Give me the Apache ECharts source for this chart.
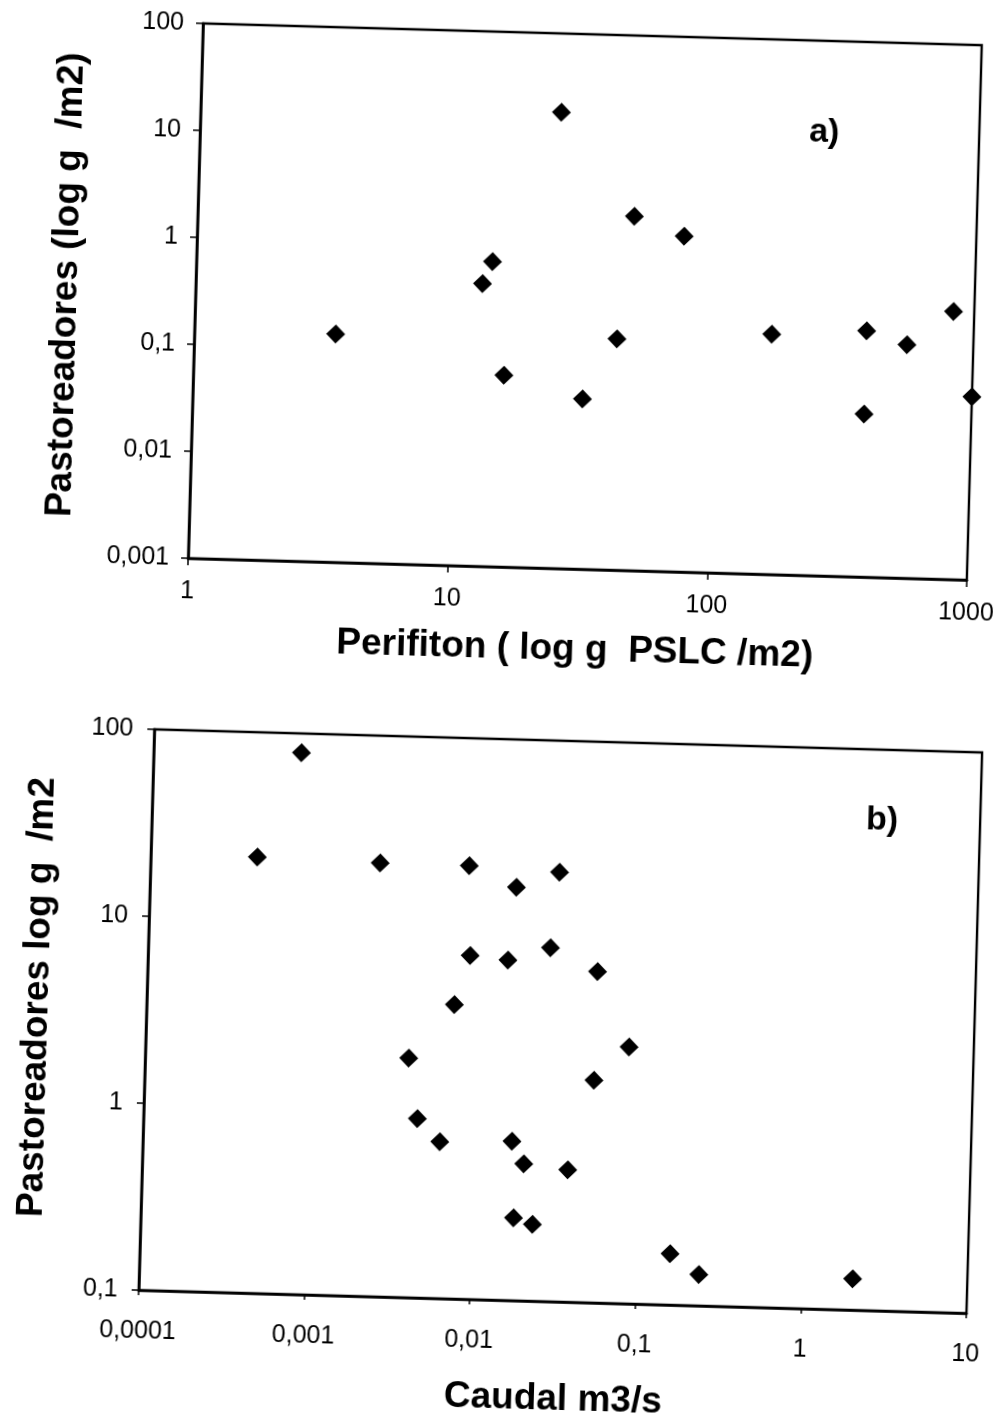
<!DOCTYPE html>
<html>
<head>
<meta charset="utf-8">
<script src="https://cdn.jsdelivr.net/npm/echarts@6/dist/echarts.min.js"></script>
<style>
  html, body { margin: 0; padding: 0; background: #fff; overflow: hidden; }
  #main { width: 1000px; height: 1420px; transform: rotate(1.6deg); transform-origin: 500px 710px; }
</style>
</head>
<body>
<div id="main"></div>
<script>
// ---- Panel a) ----
const perifiton = [3.5, 24.5, 48, 75, 13.8, 12.7, 42.4, 15.7, 31.7, 167, 387, 555, 832, 1000, 386];
const pastoreadoresA = [0.136, 18.4, 2.05, 1.37, 0.71, 0.44, 0.145, 0.062, 0.039, 0.176, 0.2, 0.152, 0.32, 0.0515, 0.0333];
const aXTickLabels = ['1', '10', '100', '1000'];          // exponents 0..3
const aYTickLabels = ['0,001', '0,01', '0,1', '1', '10', '100']; // exponents -3..2

// ---- Panel b) ----
const caudal = [0.00078, 0.00044, 0.00243, 0.0084, 0.0163, 0.0295, 0.0088, 0.0149, 0.0268, 0.052, 0.0072, 0.0039,
                0.083, 0.0516, 0.0045, 0.0062, 0.0169, 0.0201, 0.0371, 0.0178, 0.0232, 0.159, 0.239, 2.03];
const pastoreadoresB = [79, 21.5, 20.9, 20.8, 16.2, 19.8, 6.9, 6.6, 7.8, 5.9, 3.75, 1.91,
                        2.36, 1.55, 0.91, 0.69, 0.71, 0.54, 0.51, 0.277, 0.257, 0.188, 0.147, 0.147];
const bXTickLabels = ['0,0001', '0,001', '0,01', '0,1', '1', '10']; // exponents -4..1
const bYTickLabels = ['0,1', '1', '10', '100'];                   // exponents -1..2

const titles = {
  aX: 'Perifiton ( log g  PSLC /m2)',
  aY: 'Pastoreadores (log g  /m2)',
  bX: 'Caudal m3/s',
  bY: 'Pastoreadores log g  /m2',
  a: 'a)',
  b: 'b)'
};

const FONT = "'Liberation Sans', Arial, Helvetica, sans-serif";
const TICK_FS = 25;
function fmt(labels, minExp) {
  return function (v) {
    const e = Math.round(Math.log10(v));
    const s = labels[e - minExp];
    return s === undefined ? '' : s;
  };
}
function logAxis(gridIndex, min, max, labels, minExp, margin, tickLen) {
  return {
    type: 'log', logBase: 10, gridIndex: gridIndex, min: min, max: max, interval: 1,
    axisLine: { show: true, onZero: false, lineStyle: { color: '#000', width: 2.6 } },
    axisTick: { show: true, length: tickLen, lineStyle: { color: '#000', width: 1.5 } },
    minorTick: { show: false },
    splitLine: { show: false },
    axisLabel: { color: '#000', fontSize: TICK_FS, fontFamily: FONT, margin: margin, formatter: fmt(labels, minExp) }
  };
}

const chart = echarts.init(document.getElementById('main'), null, { renderer: 'canvas' });
const bold = "bold 37px " + FONT;
chart.setOption({
  backgroundColor: '#fff',
  animation: false,
  grid: [
    { left: 184, top: 32, width: 779, height: 535, show: true, borderColor: '#000', borderWidth: 2.4, backgroundColor: 'transparent' },
    { left: 155, top: 739, width: 835, height: 561, show: true, borderColor: '#000', borderWidth: 2.4, backgroundColor: 'transparent' }
  ],
  xAxis: [
    logAxis(0, 1, 1000, aXTickLabels, 0, 21, 7),
    logAxis(1, 0.0001, 10, bXTickLabels, -4, 29, 5)
  ],
  yAxis: [
    logAxis(0, 0.001, 100, aYTickLabels, -3, 19, 7),
    logAxis(1, 0.1, 100, bYTickLabels, -1, 21, 7)
  ],
  series: [
    {
      type: 'scatter', xAxisIndex: 0, yAxisIndex: 0,
      data: perifiton.map((x, i) => [x, pastoreadoresA[i]]),
      symbol: 'diamond', symbolSize: 19, itemStyle: { color: '#000', opacity: 1 }
    },
    {
      type: 'scatter', xAxisIndex: 1, yAxisIndex: 1,
      data: caudal.map((x, i) => [x, pastoreadoresB[i]]),
      symbol: 'diamond', symbolSize: 19, itemStyle: { color: '#000', opacity: 1 }
    }
  ],
  graphic: [
    { type: 'text', x: 573, y: 648, style: { text: titles.aX, font: bold, fill: '#000', align: 'center', verticalAlign: 'middle' } },
    { type: 'text', x: 55, y: 297, rotation: Math.PI / 2, style: { text: titles.aY, font: bold, fill: '#000', align: 'center', verticalAlign: 'middle' } },
    { type: 'text', x: 808, y: 124, style: { text: titles.a, font: "bold 34px " + FONT, fill: '#000', align: 'center', verticalAlign: 'middle' } },
    { type: 'text', x: 572, y: 1398, style: { text: titles.bX, font: bold, fill: '#000', align: 'center', verticalAlign: 'middle' } },
    { type: 'text', x: 46, y: 1010, rotation: Math.PI / 2, style: { text: titles.bY, font: bold, fill: '#000', align: 'center', verticalAlign: 'middle' } },
    { type: 'text', x: 885, y: 810, style: { text: titles.b, font: "bold 34px " + FONT, fill: '#000', align: 'center', verticalAlign: 'middle' } }
  ]
});
</script>
</body>
</html>
